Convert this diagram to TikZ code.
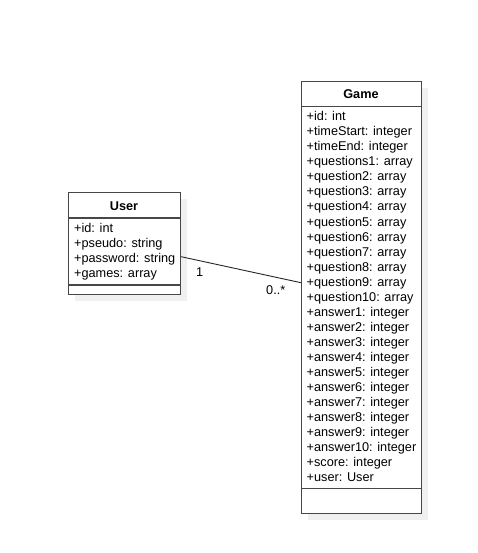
\documentclass[tikz,border=0pt]{standalone}
\usepackage{fontspec}
\setmainfont{Liberation Sans}
\begin{document}
\begin{tikzpicture}[x=1pt,y=-1pt,
  box/.style={draw=black!72,line width=1.1pt,fill=white,inner sep=0pt,anchor=north west},
  shade/.style={fill=black!6,draw=none},
  sep/.style={draw=black!72,line width=1.1pt},
  title/.style={anchor=base,inner sep=0pt,font=\fontsize{12.7}{15}\selectfont\bfseries},
  attr/.style={anchor=base west,inner sep=0pt,font=\fontsize{12.7}{15}\selectfont},
  mult/.style={anchor=base west,inner sep=0pt,font=\fontsize{12.7}{15}\selectfont},
  assoc/.style={draw=black!85,line width=0.9pt}]
\useasboundingbox (0,0) rectangle (477,553);
\fill[white] (0,0) rectangle (477,553);

% drop shadows
\fill[shade] (75,199) rectangle (187,301);
\fill[shade] (308,88) rectangle (428,519.5);

% User class
\node[box,minimum width=112pt,minimum height=102pt] (user) at (68,192) {};
\draw[sep] (68,218) -- (180,218);
\draw[sep] (68,285) -- (180,285);
\node[title] (usert) at (124,210.5) {User};
\foreach \t [count=\i from 0] in {+id: int,+pseudo: string,+password: string,+games: array}
  \node[attr] (ua\i) at (74,232.7+15*\i) {\t};

% Game class
\node[box,minimum width=120pt,minimum height=431.5pt] (game) at (301,81) {};
\draw[sep] (301,106.5) -- (421,106.5);
\draw[sep] (301,488.3) -- (421,488.3);
\node[title] (gamet) at (361,98.3) {Game};
\foreach \t [count=\i from 0] in {+id: int,+timeStart: integer,+timeEnd: integer,
  +questions1: array,+question2: array,+question3: array,+question4: array,
  +question5: array,+question6: array,+question7: array,+question8: array,
  +question9: array,+question10: array,+answer1: integer,+answer2: integer,
  +answer3: integer,+answer4: integer,+answer5: integer,+answer6: integer,
  +answer7: integer,+answer8: integer,+answer9: integer,+answer10: integer,
  +score: integer,+user: User}
  \node[attr] (ga\i) at (306.5,121+15*\i) {\t};

% association
\coordinate (uend) at (user.east |- 0,256.7);
\coordinate (gend) at (game.west |- 0,282.7);
\draw[assoc] (uend) -- (gend);
\node[mult] (m1) at (196,276.5) {1};
\node[mult] (m2) at (266,294.3) {0..*};
\end{tikzpicture}
\end{document}
